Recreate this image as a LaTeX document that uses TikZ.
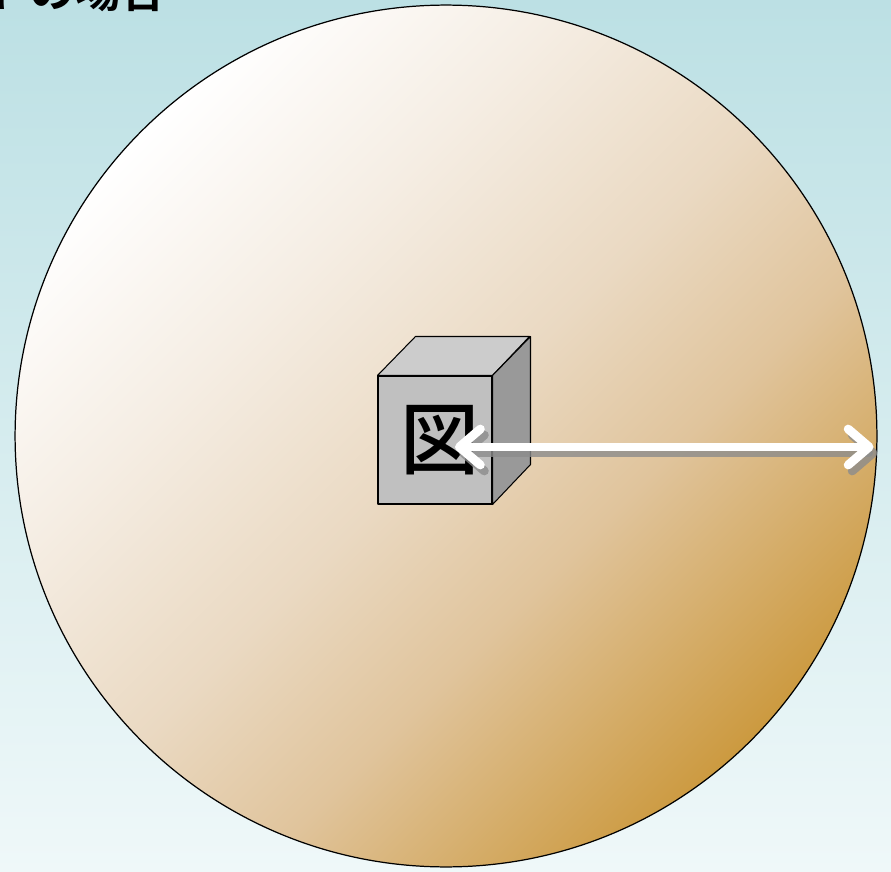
\documentclass[tikz,border=0pt]{standalone}
\usepackage{fontspec}
\usetikzlibrary{positioning, arrows.meta, calc}
\newfontfamily\cjk{Noto Sans CJK JP Medium}
\newfontfamily\cjkbold{Noto Sans CJK JP Bold}
\definecolor{SkyTop}{HTML}{BCE0E4}
\definecolor{SkyBottom}{HTML}{EFF8F9}
\definecolor{SandPale}{HTML}{F5EDE3}
\definecolor{SandMid}{HTML}{EAD9C2}
\definecolor{SandTan}{HTML}{E0C49C}
\definecolor{SandDark}{HTML}{CC9A40}
\definecolor{BoxFront}{HTML}{C0C0C0}
\definecolor{BoxTop}{HTML}{CCCCCC}
\definecolor{BoxSide}{HTML}{999999}
\pgfdeclareverticalshading{sandglow}{100bp}{color(0bp)=(SandDark); color(25bp)=(SandDark);
    color(40bp)=(SandTan); color(50bp)=(SandMid); color(62.5bp)=(SandPale);
    color(75bp)=(white); color(100bp)=(white)}

\begin{document}
\begin{tikzpicture}[
    x=0.02cm, y=-0.02cm,
    field/.style={circle, draw=black, line width=0.7pt, minimum size=17.24cm, inner sep=0pt,
        shade, shading=sandglow, shading angle=45},
    face/.style={draw=black, line width=0.6pt, line join=round},
    radius arrow/.style={line width=5pt, line cap=round, {Straight Barb[round, length=0.42cm, width=0.72cm]}-{Straight Barb[round, length=0.42cm, width=0.72cm]}},
    every node/.style={inner sep=0pt}
]
\useasboundingbox (0,0) rectangle (891,871);
\shade[top color=SkyTop, bottom color=SkyBottom] (0,0) rectangle (891,871);

% heading, cut off by the page edge
\node[anchor=south east, font=\cjkbold\fontsize{26}{26}\selectfont] (title) at (167,12) {トの場合};

\node[field] (field) at (446,436) {};

% cube
\node[face, fill=BoxFront, minimum width=2.28cm, minimum height=2.56cm] (box) at (435,440) {};
\draw[face, fill=BoxTop] (box.north west) -- ++(38,-39) -- ++(114,0) -- (box.north east) -- cycle;
\draw[face, fill=BoxSide] (box.north east) -- ++(38,-39) -- ++(0,128) -- (box.south east) -- cycle;
\node[font=\cjk\fontsize{45}{45}\selectfont, xshift=0.1cm] (glyph) at (box.center) {図};

% radius
\coordinate (inner) at ($(box.center)+(20,7)$);
\coordinate (outer) at ($(field.east)+(-4,11)$);
\draw[radius arrow, draw=black!45, opacity=0.8] ($(inner)+(4,6)$) -- ($(outer)+(4,6)$);
\draw[radius arrow, draw=white] (inner) -- (outer);

\end{tikzpicture}
\end{document}
